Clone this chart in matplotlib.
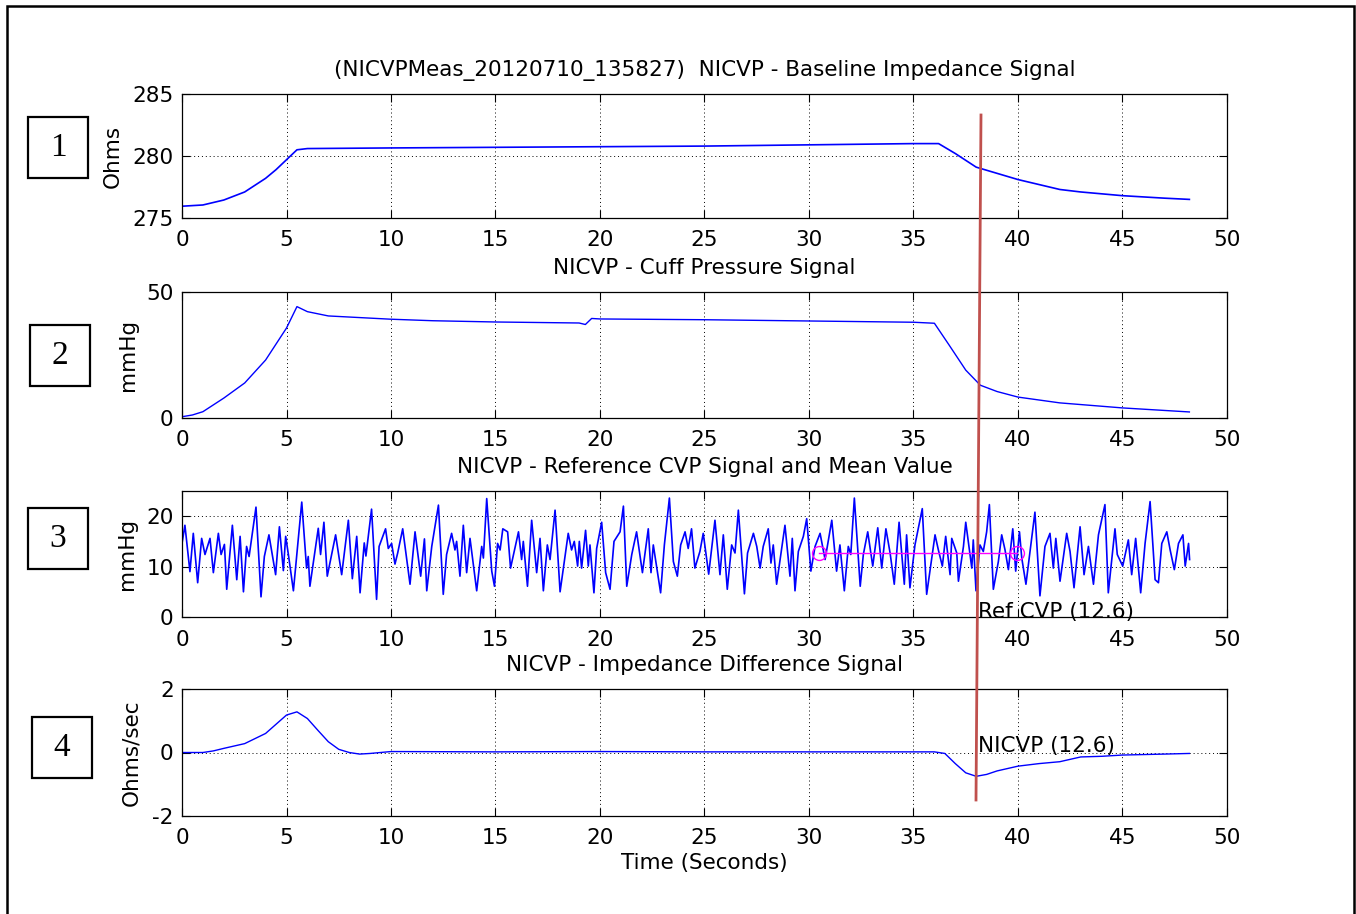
import numpy as np
import matplotlib
matplotlib.use("Agg")
import matplotlib.pyplot as plt
from matplotlib.patches import Rectangle
from matplotlib.lines import Line2D

plt.rcParams['font.family'] = ['DejaVu Sans']
plt.rcParams['axes.unicode_minus'] = False

# ---- data ----
ohm_t = [0, 1, 2, 3, 4, 4.5, 5, 5.5, 6, 10, 15, 20, 25, 30, 35, 36.2, 37, 38, 39, 40, 41, 42, 43, 44, 45, 46, 47, 48.2]
ohm_v = [275.95, 276.05, 276.45, 277.1, 278.2, 278.9, 279.7, 280.5, 280.6, 280.65, 280.7, 280.75, 280.8, 280.9, 281.0, 281.0,
         280.2, 279.1, 278.6, 278.1, 277.7, 277.3, 277.1, 276.95, 276.8, 276.7, 276.6, 276.5]

cuff_t = [0, 0.5, 1, 2, 3, 4, 5, 5.5, 6, 7, 10, 12, 15, 19, 19.3, 19.6, 20, 25, 30, 35, 36, 36.7, 37.5, 38.2, 39, 40, 42, 45, 48.2]
cuff_v = [0.5, 1.2, 2.5, 7.9, 13.9, 23.0, 35.7, 44.2, 42.2, 40.5, 39.2, 38.6, 38.1, 37.7, 37.1, 39.5, 39.3, 39.0, 38.5, 38.0,
          37.6, 29.0, 19.0, 13.0, 10.5, 8.3, 6.0, 4.0, 2.4]

cvp_t = [0.0, 0.14, 0.38, 0.54, 0.75, 0.94, 1.10, 1.34, 1.50, 1.74, 1.87, 2.03, 2.14, 2.41, 2.62, 2.78, 2.94, 3.09, 3.21,
         3.54, 3.78, 3.94, 4.16, 4.48, 4.66, 4.85, 4.96, 5.09, 5.33, 5.73, 5.96, 6.04, 6.12, 6.52, 6.63, 6.79, 6.95, 7.35,
         7.64, 7.96, 8.15, 8.36, 8.52, 8.72, 8.80, 9.07, 9.31, 9.43, 9.74, 9.87, 10.03, 10.19, 10.32, 10.56, 10.91, 11.15,
         11.42, 11.60, 11.71, 11.95, 12.27, 12.50, 12.66, 12.90, 13.06, 13.14, 13.30, 13.46, 13.62, 13.78, 14.10, 14.34,
         14.42, 14.58, 14.82, 14.95, 15.10, 15.22, 15.35, 15.58, 15.72, 16.10, 16.25, 16.33, 16.53, 16.73, 16.97, 17.13,
         17.29, 17.48, 17.61, 17.85, 18.09, 18.48, 18.64, 18.77, 18.93, 19.01, 19.12, 19.31, 19.44, 19.52, 19.71, 19.84,
         20.08, 20.27, 20.48, 20.67, 20.96, 21.12, 21.28, 21.52, 21.75, 22.03, 22.31, 22.44, 22.55, 22.90, 23.08, 23.32,
         23.51, 23.70, 23.86, 24.07, 24.22, 24.38, 24.54, 24.78, 24.94, 25.20, 25.50, 25.74, 25.90, 26.09, 26.30, 26.46,
         26.62, 26.91, 27.06, 27.34, 27.50, 27.66, 27.81, 28.05, 28.18, 28.29, 28.45, 28.85, 29.09, 29.20, 29.33, 29.49,
         29.73, 29.89, 30.09, 30.29, 30.53, 30.77, 31.09, 31.32, 31.48, 31.69, 31.88, 32.00, 32.17, 32.45, 32.60, 32.81,
         33.05, 33.29, 33.48, 33.68, 33.88, 34.08, 34.31, 34.56, 34.67, 34.83, 35.07, 35.42, 35.63, 36.03, 36.19, 36.38,
         36.54, 36.75, 36.83, 37.07, 37.15, 37.39, 37.50, 37.79, 37.86, 37.99, 38.18, 38.34, 38.50, 38.63, 38.82, 39.06,
         39.22, 39.38, 39.54, 39.75, 39.89, 40.07, 40.18, 40.38, 40.81, 41.05, 41.29, 41.53, 41.69, 41.81, 42.01, 42.33,
         42.49, 42.68, 42.97, 43.16, 43.37, 43.61, 43.85, 44.16, 44.32, 44.64, 44.75, 45.01, 45.28, 45.44, 45.63, 45.87,
         46.08, 46.32, 46.56, 46.72, 46.88, 47.12, 47.28, 47.48, 47.68, 47.89, 48.00, 48.16, 48.21]
cvp_v = [14.6, 18.2, 9.0, 16.6, 6.8, 15.6, 12.4, 15.6, 8.8, 16.6, 12.4, 14.4, 5.5, 18.2, 7.4, 16.0, 5.0, 14.0, 12.0,
         21.8, 4.0, 12.0, 16.3, 8.4, 17.9, 9.2, 16.0, 12.4, 5.2, 22.8, 9.7, 12.0, 6.1, 17.6, 12.4, 18.8, 8.1, 16.3,
         8.4, 19.2, 7.6, 16.0, 4.8, 14.7, 12.1, 21.4, 3.5, 14.0, 17.5, 13.6, 14.6, 10.5, 12.7, 17.5, 6.5, 16.9,
         8.1, 15.5, 5.2, 14.0, 22.2, 4.5, 12.4, 16.6, 13.3, 15.0, 8.1, 18.2, 8.8, 15.6, 5.2, 14.0,
         11.7, 23.5, 9.1, 6.1, 14.6, 13.3, 17.5, 16.9, 9.7, 16.9, 11.4, 15.0, 6.1, 19.2, 8.8, 15.6,
         5.2, 14.3, 11.4, 21.2, 5.0, 16.6, 13.3, 15.0, 10.1, 15.0, 9.7, 17.2, 10.1, 14.3, 4.8, 13.6,
         18.8, 8.8, 5.5, 15.0, 16.9, 22.0, 6.1, 12.4, 16.9, 8.8, 17.5, 8.8, 14.3, 4.8, 14.3, 23.6,
         11.0, 8.1, 14.3, 16.9, 13.6, 17.5, 9.7, 13.0, 16.6, 8.5, 19.2, 8.4, 16.3, 5.5, 14.3, 12.7,
         21.2, 4.6, 12.7, 16.6, 14.0, 9.7, 14.0, 17.5, 10.7, 14.3, 6.5, 18.2, 8.1, 15.6, 5.2, 13.0,
         16.0, 19.5, 9.1, 14.0, 16.6, 11.4, 19.2, 9.1, 14.3, 5.2, 14.0, 12.4, 23.6, 6.1, 12.4, 16.9,
         10.1, 17.7, 9.7, 17.5, 12.7, 6.5, 18.8, 6.5, 16.3, 5.8, 14.3, 21.5, 4.5, 16.3, 13.3, 10.1,
         16.0, 8.4, 15.6, 12.7, 7.1, 14.0, 18.8, 9.7, 15.3, 5.2, 14.3, 13.0, 16.9, 22.3, 5.5, 11.0,
         16.3, 13.3, 9.4, 17.5, 9.1, 16.9, 11.7, 6.5, 20.8, 4.2, 14.0, 16.6, 9.7, 15.6, 7.1, 16.6,
         13.0, 5.8, 17.9, 8.4, 14.0, 6.5, 16.3, 22.3, 4.8, 17.5, 12.4, 10.1, 15.3, 8.4, 15.6, 4.8,
         14.6, 22.9, 7.4, 6.8, 14.6, 16.9, 13.3, 9.4, 14.6, 16.3, 10.1, 14.6, 11.4]

mean_t = [30.5, 39.95]
mean_v = [12.6, 12.6]

diff_t = [0, 1, 1.5, 2, 3, 4, 5, 5.5, 6, 6.5, 7, 7.5, 8, 8.5, 9, 10, 15, 20, 25, 30, 35, 36, 36.5, 37, 37.5, 38, 38.5,
          39, 40, 41, 42, 43, 44, 45, 47, 48.2]
diff_v = [0.0, 0.0, 0.05, 0.13, 0.28, 0.6, 1.18, 1.28, 1.07, 0.7, 0.34, 0.1, 0.0, -0.05, -0.03, 0.03, 0.02, 0.03, 0.02,
          0.02, 0.02, 0.02, -0.03, -0.35, -0.64, -0.75, -0.69, -0.58, -0.43, -0.35, -0.29, -0.14, -0.12, -0.08, -0.05, -0.03]

xticks = list(range(0, 51, 5))

W, H = 1356, 914
FS = 15.5
fig = plt.figure(figsize=(W / 100, H / 100), dpi=100)


def px_axes(x0, y0, x1, y1):
    return fig.add_axes([x0 / W, 1 - y1 / H, (x1 - x0) / W, (y1 - y0) / H])


def style(ax, yl, yt, ylabel, labx, title):
    ax.set_xlim(0, 50)
    ax.set_ylim(*yl)
    ax.set_xticks(xticks)
    ax.set_yticks(yt)
    ax.tick_params(direction='in', length=6, width=0.8, top=True, right=True,
                   labelsize=FS, pad=6)
    ax.tick_params(axis='x', pad=9)
    ax.grid(True, color='black', linestyle=(0, (1, 3)), linewidth=0.7)
    for s in ax.spines.values():
        s.set_linewidth(0.9)
    ax.set_ylabel(ylabel, fontsize=FS)
    ax.yaxis.set_label_coords(labx, 0.5)
    ax.text(0.5, 1.19, title, transform=ax.transAxes, ha='center', va='center', fontsize=FS)


ax1 = px_axes(182, 94, 1227, 218)
ax1.plot(ohm_t, ohm_v, color='blue', lw=1.2)
style(ax1, (275, 285), [275, 280, 285], 'Ohms', -0.057,
      '(NICVPMeas_20120710_135827)  NICVP - Baseline Impedance Signal')

ax2 = px_axes(182, 292, 1227, 418)
ax2.plot(cuff_t, cuff_v, color='blue', lw=1.0)
style(ax2, (0, 50), [0, 50], 'mmHg', -0.042, 'NICVP - Cuff Pressure Signal')

ax3 = px_axes(182, 491, 1227, 617)
ax3.plot(cvp_t, cvp_v, color='blue', lw=1.2)
ax3.plot(mean_t, mean_v, color='magenta', lw=1.0, marker='o', ms=10, mfc='none')
ax3.text(38.1, 1.0, 'Ref CVP (12.6)', fontsize=FS, ha='left', va='center')
style(ax3, (0, 25), [0, 10, 20], 'mmHg', -0.043, 'NICVP - Reference CVP Signal and Mean Value')

ax4 = px_axes(182, 689, 1227, 816)
ax4.plot(diff_t, diff_v, color='blue', lw=1.0)
ax4.text(38.1, 0.2, 'NICVP (12.6)', fontsize=FS, ha='left', va='center')
style(ax4, (-2, 2), [-2, 0, 2], 'Ohms/sec', -0.039, 'NICVP - Impedance Difference Signal')
ax4.set_xlabel('Time (Seconds)', fontsize=FS, labelpad=3)

# numbered boxes on the left
boxes = [(28, 117, '1'), (30, 325, '2'), (28, 508, '3'), (32, 717, '4')]
for bx, by, lab in boxes:
    fig.add_artist(Rectangle((bx / W, 1 - (by + 61) / H), 60 / W, 61 / H, transform=fig.transFigure,
                             fill=False, edgecolor='black', lw=1.6))
    fig.text((bx + 30) / W, 1 - (by + 30.5) / H, lab, ha='center', va='center',
             fontsize=24, family='Liberation Serif')

# red marker line across the panels
fig.add_artist(Line2D([981 / W, 976 / W], [1 - 115 / H, 1 - 800 / H], transform=fig.transFigure,
                      color='#c0504d', lw=2.0, zorder=10))

# outer frame
fig.add_artist(Rectangle((7 / W, -0.01), (1354 - 7) / W, 1 - 6 / H + 0.01, transform=fig.transFigure,
                         fill=False, edgecolor='black', lw=1.8))

fig.savefig('out.png', dpi=100)
